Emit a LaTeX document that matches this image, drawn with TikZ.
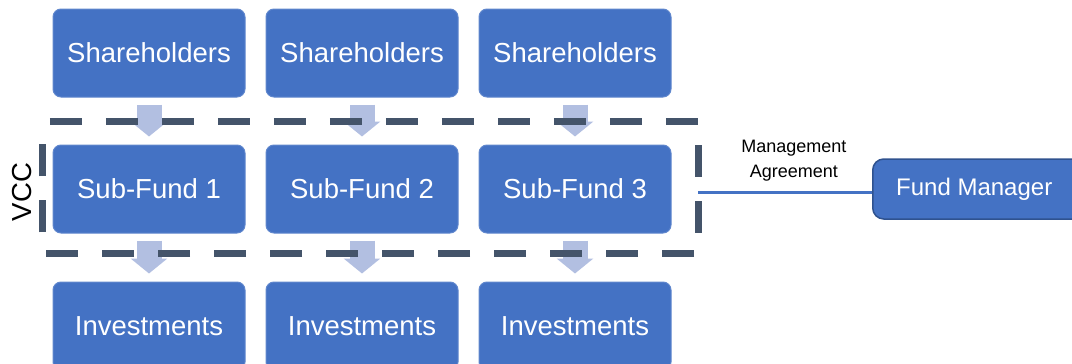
\documentclass[tikz,border=0pt]{standalone}
\usepackage{fontspec}
\setmainfont{Liberation Sans}
\usetikzlibrary{arrows.meta}
\definecolor{boxblue}{RGB}{68,114,196}
\definecolor{flowblue}{RGB}{178,191,225}
\definecolor{slate}{RGB}{68,84,106}
\definecolor{edgeblue}{RGB}{47,82,143}

\begin{document}
\begin{tikzpicture}[x=1pt, y=-1pt,
  fundbox/.style={rectangle, rounded corners=8pt, fill=boxblue, draw=boxblue!85!white,
    line width=1pt, minimum width=192pt, minimum height=88pt, text=white,
    font=\fontsize{27.5}{33}\selectfont},
  flow/.style={line width=25pt, draw=flowblue, -{Triangle[width=36pt,length=15pt]},
    shorten <=7pt, shorten >=8pt},
  vccbox/.style={minimum width=655pt, minimum height=131pt, inner sep=0pt},
  vccline/.style={draw=slate, line width=7pt, dash pattern=on 32pt off 24pt, dash phase=49pt}]

\useasboundingbox (0,0) rectangle (1072,364);
\clip (0,0) rectangle (1072,364);

% three columns: shareholders -> sub-fund -> investments
\foreach \i/\x in {1/149,2/362,3/575} {
  \node[fundbox] (sh\i) at (\x,53) {Shareholders};
  \node[fundbox] (sf\i) at (\x,189) {Sub-Fund \i};
  \node[fundbox] (inv\i) at (\x,326) {Investments};
  \draw[flow] (sh\i) -- (sf\i);
  \draw[flow] (sf\i) -- (inv\i);
}

% umbrella company round the sub-funds, dashes run clockwise from top left
\node[vccbox] (vcc) at (370.5,187.5) {};
\draw[vccline] (vcc.north west) -- (vcc.north east) -- (vcc.south east)
  -- (vcc.south west) -- cycle;
\node[rotate=90, font=\fontsize{27.5}{33}\selectfont] (vcclabel) at (22,192) {VCC};

% external manager
\node[rectangle, rounded corners=11pt, fill=boxblue, draw=edgeblue, line width=1.5pt,
  text=white, minimum width=215pt, minimum height=60pt, anchor=west,
  font=\fontsize{24}{28}\selectfont] (fm) at (872,189) {\hspace*{-12pt}Fund Manager\hfill};
\draw[boxblue, line width=3pt] ([yshift=-3pt]fm.west) -- ([yshift=-3pt]fm.west -| vcc.east)
  node[pos=0.45, above=6pt, align=center, text=black, font=\fontsize{18}{25}\selectfont]
  {Management\\Agreement};
\end{tikzpicture}
\end{document}
